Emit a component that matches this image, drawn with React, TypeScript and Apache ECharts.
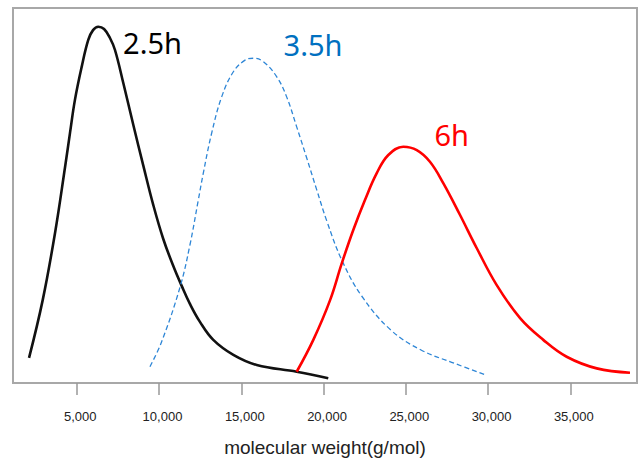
import React, { useEffect, useRef } from "react";
import * as echarts from "echarts";

// molecular weight (g/mol), relative intensity
const xTicks = [5000, 10000, 15000, 20000, 25000, 30000, 35000];

const mw25h = [2100, 2930, 3680, 4290, 4590, 4890, 5300, 5700, 5990, 6310, 6660, 7020, 7325, 7830, 8440, 9050, 9650, 10260, 10870, 11380, 11880, 12490, 13300, 14520, 15940, 18370, 20290];
const int25h = [6.7, 22.1, 40.0, 57.6, 66.7, 75.5, 84.3, 91.5, 94.1, 95.0, 94.4, 92.0, 88.8, 80.0, 68.8, 57.9, 47.5, 38.4, 31.2, 25.9, 21.1, 16.3, 11.5, 7.5, 4.8, 3.0, 1.25];

const mw35h = [9450, 10160, 11280, 11880, 12390, 12690, 13200, 13810, 14520, 15230, 15730, 16340, 17150, 17760, 18370, 18980, 19590, 20200, 21110, 22320, 24100, 25930, 27990, 29820];
const int35h = [4.35, 11.0, 25.6, 36.8, 48.8, 55.9, 66.6, 76.3, 83.0, 86.1, 86.6, 85.7, 81.7, 76.3, 68.3, 60.0, 51.5, 43.2, 32.8, 23.2, 14.1, 8.8, 5.2, 2.2];

const mw6h = [18370, 19380, 20400, 21110, 21810, 22520, 23230, 23940, 24850, 25670, 26470, 27280, 28300, 29310, 30530, 31950, 33360, 34780, 36610, 38630];
const int6h = [3.0, 11.5, 22.1, 31.9, 40.8, 48.8, 55.9, 60.8, 63.0, 62.1, 59.0, 53.3, 44.8, 36.0, 26.1, 17.3, 11.5, 7.0, 3.9, 2.75];

const seriesNames = ["2.5h", "3.5h", "6h"];

const zip = (xs: number[], ys: number[]) => xs.map((x, i) => [x, ys[i]]);

export default function App() {
  const ref = useRef<HTMLDivElement>(null);
  useEffect(() => {
    if (!ref.current) return;
    const chart = echarts.init(ref.current, null, { renderer: "svg" });
    chart.setOption({
      animation: false,
      backgroundColor: "#ffffff",
      grid: {
        left: 13,
        right: 6,
        top: 8,
        bottom: 85,
        show: true,
        borderColor: "#a8a8a8",
        borderWidth: 2,
        backgroundColor: "transparent",
      },
      xAxis: {
        type: "value",
        min: 1125,
        max: 39057,
        name: "molecular weight(g/mol)",
        nameLocation: "middle",
        nameGap: 55,
        nameTextStyle: {
          fontFamily: "'Liberation Sans', Arial, sans-serif",
          fontSize: 19,
          color: "#222222",
        },
        axisLine: { show: true, lineStyle: { color: "#a8a8a8", width: 2 } },
        axisTick: {
          show: true,
          length: 12,
          customValues: xTicks,
          lineStyle: { color: "#999999", width: 1.5 },
        },
        axisLabel: {
          customValues: xTicks,
          margin: 27,
          padding: [0, 0, 0, 7],
          fontFamily: "'Liberation Sans', Arial, sans-serif",
          fontSize: 13,
          color: "#222222",
          formatter: (v: number) => v.toLocaleString("en-US"),
        },
        splitLine: { show: false },
      },
      yAxis: {
        type: "value",
        min: 0,
        max: 100,
        show: false,
        splitLine: { show: false },
      },
      series: [
        {
          name: seriesNames[0],
          type: "line",
          data: zip(mw25h, int25h),
          smooth: 0.4,
          showSymbol: false,
          lineStyle: { color: "#111111", width: 2.6 },
        },
        {
          name: seriesNames[1],
          type: "line",
          data: zip(mw35h, int35h),
          smooth: 0.4,
          showSymbol: false,
          lineStyle: { color: "#2e86d6", width: 1.3, type: [5, 3] },
        },
        {
          name: seriesNames[2],
          type: "line",
          data: zip(mw6h, int6h),
          smooth: 0.4,
          showSymbol: false,
          lineStyle: { color: "#ff0000", width: 2.6 },
        },
      ],
      graphic: [
        {
          type: "text",
          x: 152.5,
          y: 42.5,
          style: {
            text: seriesNames[0],
            fill: "#000000",
            font: "29px 'Noto Sans', sans-serif",
            align: "center",
            verticalAlign: "middle",
          },
        },
        {
          type: "text",
          x: 313,
          y: 44,
          style: {
            text: seriesNames[1],
            fill: "#0070c0",
            font: "29px 'Noto Sans', sans-serif",
            align: "center",
            verticalAlign: "middle",
          },
        },
        {
          type: "text",
          x: 451.7,
          y: 134,
          style: {
            text: seriesNames[2],
            fill: "#ff0000",
            font: "29px 'Noto Sans', sans-serif",
            align: "center",
            verticalAlign: "middle",
          },
        },
      ],
    });
    return () => chart.dispose();
  }, []);
  return (
    <div
      ref={ref}
      style={{ position: "fixed", left: 0, top: 0, width: 643, height: 468, background: "#fff" }}
    />
  );
}
